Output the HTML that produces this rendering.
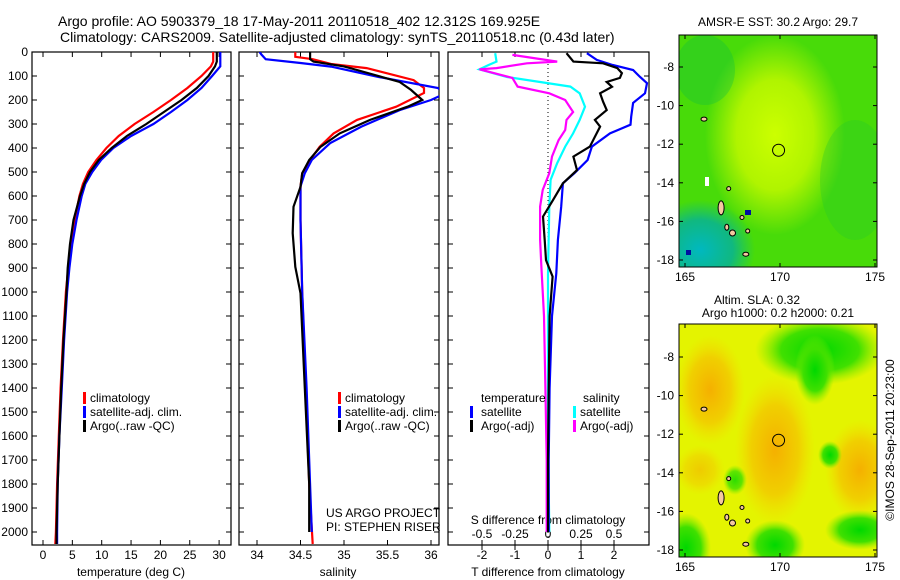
<!DOCTYPE html>
<html><head><meta charset="utf-8"><style>
html,body{margin:0;padding:0;background:#fff;}
svg{display:block;font-family:"Liberation Sans",sans-serif;}
text{fill:#000;font-size:12px;}
</style></head><body>
<svg id="chart" width="900" height="580" viewBox="0 0 900 580" xmlns="http://www.w3.org/2000/svg">
<defs>
<radialGradient id="g1y" cx="0.5" cy="0.5" r="0.5"><stop offset="0" stop-color="#ccff00"/><stop offset="0.55" stop-color="#b0f400"/><stop offset="1" stop-color="#b0f400" stop-opacity="0"/></radialGradient>
<radialGradient id="g1t" cx="0.5" cy="0.5" r="0.5"><stop offset="0" stop-color="#00b8c0"/><stop offset="0.6" stop-color="#10b880"/><stop offset="1" stop-color="#10c070" stop-opacity="0"/></radialGradient>
<radialGradient id="g2o" cx="0.5" cy="0.5" r="0.5"><stop offset="0" stop-color="#f5b000"/><stop offset="0.6" stop-color="#f0d000"/><stop offset="1" stop-color="#f0e000" stop-opacity="0"/></radialGradient>
<radialGradient id="g2g" cx="0.5" cy="0.5" r="0.5"><stop offset="0" stop-color="#00d800"/><stop offset="0.6" stop-color="#40e000"/><stop offset="1" stop-color="#80ec00" stop-opacity="0"/></radialGradient>
<clipPath id="cp1"><rect x="32" y="52" width="199" height="493"/></clipPath>
<clipPath id="cp2"><rect x="239" y="52" width="200" height="493"/></clipPath>
<clipPath id="cp3"><rect x="448" y="52" width="201" height="493"/></clipPath>
<clipPath id="cm1"><rect x="679" y="35" width="198" height="232"/></clipPath>
<clipPath id="cm2"><rect x="679" y="324" width="198" height="233"/></clipPath>
</defs>
<text x="58" y="26" style="font-size:14px">Argo profile: AO 5903379_18 17-May-2011 20110518_402 12.312S 169.925E</text>
<text x="60" y="42" style="font-size:14px">Climatology: CARS2009. Satellite-adjusted climatology: synTS_20110518.nc (0.43d later)</text>

<!-- Map 1 -->
<g clip-path="url(#cm1)">
<rect x="679" y="35" width="198" height="232" fill="#55e000"/>
<rect x="679" y="35" width="198" height="232" fill="#22cc22" opacity="0.25"/>
<ellipse cx="775" cy="135" rx="70" ry="100" fill="url(#g1y)"/>
<ellipse cx="700" cy="250" rx="55" ry="50" fill="url(#g1t)"/>
<ellipse cx="855" cy="180" rx="35" ry="60" fill="#22c830" opacity="0.3"/>
<ellipse cx="705" cy="70" rx="30" ry="35" fill="#10c040" opacity="0.35"/>
<rect x="705" y="177" width="4" height="9" fill="#fff"/>
<rect x="686" y="250" width="5" height="5" fill="#0010a0"/>
<rect x="745" y="210" width="6" height="5" fill="#0010a0"/>
</g>
<rect x="679" y="35" width="198" height="232" fill="none" stroke="#000"/>
<text x="778" y="26" text-anchor="middle">AMSR-E SST: 30.2 Argo: 29.7</text>

<!-- Map 2 -->
<g clip-path="url(#cm2)">
<rect x="679" y="324" width="198" height="233" fill="#e4f400"/>
<ellipse cx="775" cy="450" rx="40" ry="75" fill="url(#g2o)"/>
<ellipse cx="710" cy="390" rx="35" ry="55" fill="url(#g2o)"/>
<ellipse cx="860" cy="470" rx="35" ry="50" fill="url(#g2o)"/>
<ellipse cx="700" cy="470" rx="25" ry="25" fill="url(#g2o)" opacity="0.6"/>
<ellipse cx="820" cy="350" rx="65" ry="35" fill="url(#g2g)"/>
<ellipse cx="815" cy="370" rx="20" ry="35" fill="url(#g2g)"/>
<ellipse cx="830" cy="455" rx="12" ry="14" fill="url(#g2g)"/>
<ellipse cx="686" cy="548" rx="25" ry="35" fill="url(#g2g)"/>
<ellipse cx="775" cy="545" rx="30" ry="25" fill="url(#g2g)"/>
<ellipse cx="860" cy="530" rx="35" ry="20" fill="url(#g2g)"/>
<ellipse cx="735" cy="480" rx="12" ry="15" fill="url(#g2g)" opacity="0.8"/>
</g>
<rect x="679" y="324" width="198" height="233" fill="none" stroke="#000"/>
<text x="757" y="304" text-anchor="middle">Altim. SLA: 0.32</text>
<text x="778" y="317" text-anchor="middle">Argo h1000: 0.2 h2000: 0.21</text>
<text transform="translate(894,440) rotate(-90)" text-anchor="middle">©IMOS 28-Sep-2011 20:23:00</text>

<g id="plots"></g>
</svg>
<script>
// ---------- data ----------
const depthTicks = [0,100,200,300,400,500,600,700,800,900,1000,1100,1200,1300,1400,1500,1600,1700,1800,1900,2000];
const tempTicks = [0,5,10,15,20,25,30];
const salTicks = [34,34.5,35,35.5,36];
const tdiffTicks = [-2,-1,0,1,2];
const sdiffTicks = [-0.5,-0.25,0,0.25,0.5];
const sdiffTickLabels = ["-0.5","-0.25","0","0.25","0.5"];

const tDepth = [0,40,60,100,150,200,250,300,350,400,450,500,550,600,700,800,900,1000,1200,1400,1600,1800,2000,2050];
const tClim = [29.0,29.0,28.6,27.0,24.6,21.8,18.8,15.6,12.9,10.8,9.1,7.7,6.8,6.2,5.4,4.8,4.3,3.9,3.4,3.0,2.7,2.4,2.2,2.1];
const tSat = [30.2,30.2,30.2,28.8,27.0,24.6,21.8,18.8,15.0,12.0,9.9,8.4,7.2,6.6,5.7,5.0,4.5,4.1,3.6,3.2,2.8,2.5,2.4,2.4];
const tArgo = [29.6,29.6,29.3,28.2,26.2,23.6,20.6,17.6,14.3,11.7,9.5,8.0,7.0,6.3,5.2,4.6,4.2,4.0,3.5,3.1,2.8,2.5,2.3,2.3];

const sClimD = [0,20,30,50,67,117,150,171,228,283,339,395,450,505,560,700,1000,1400,1800,2050];
const sClim = [34.44,34.44,34.64,34.85,35.26,35.8,35.92,35.92,35.6,35.15,34.88,34.72,34.61,34.52,34.5,34.5,34.52,34.56,34.6,34.64];
const sSatD = [0,10,30,46,61,104,150,175,200,242,311,380,450,505,560,700,1000,1400,2000];
const sSat = [34.03,34.05,34.1,34.5,34.85,35.4,36.08,36.15,36.0,35.64,35.2,34.84,34.63,34.55,34.5,34.5,34.52,34.57,34.63];
const sArgoD = [0,30,40,60,75,125,158,200,228,283,339,395,450,505,562,645,755,895,1005,1400,1800,2000];
const sArgo = [34.61,34.61,34.65,35.0,35.15,35.64,35.77,35.9,35.73,35.3,34.95,34.73,34.6,34.52,34.5,34.42,34.41,34.44,34.5,34.55,34.6,34.6];

const dTSatD = [5,33,54,75,104,130,172,212,269,303,339,394,450,505,547,644,783,922,1100,1400,1700,2000];
const dTSat = [1.18,1.48,1.96,2.58,2.79,3.0,2.94,2.58,2.52,2.5,1.88,1.33,1.2,0.8,0.45,0.4,0.3,0.25,0.12,0.05,0.02,0.02];
const dTArgoD = [5,40,47,67,88,108,125,145,172,207,242,283,311,353,394,436,492,547,617,686,783,867,936,1100,1400,1700,2000];
const dTArgo = [0.56,0.77,1.67,2.1,2.24,2.18,1.78,1.94,1.58,1.67,1.78,1.42,1.58,1.42,1.27,0.77,0.88,0.45,0.15,-0.15,-0.1,-0.06,0.14,0.05,0.02,0.0,0.0];
const dSSatD = [5,40,54,72,104,125,144,172,228,283,339,394,463,533,644,922,1200,1600,2000];
const dSSat = [-0.40,-0.39,-0.45,-0.52,-0.31,-0.06,0.17,0.24,0.28,0.24,0.19,0.13,0.07,0.02,0.01,0,0,0,0.01];
const dSArgoD = [12,40,47,67,72,108,144,172,200,250,283,325,367,436,505,575,644,783,896,1100,1400,1700,2000];
const dSArgo = [-0.27,0.07,-0.16,-0.39,-0.52,-0.27,-0.23,0.01,0.13,0.19,0.14,0.13,0.08,0.03,0.01,-0.04,-0.06,-0.06,-0.05,-0.03,-0.02,-0.01,-0.01];

const latTicks = [-8,-10,-12,-14,-16,-18];
const lonTicks = [165,170,175];
const floatLon = 169.925, floatLat = -12.312;

// ---------- scales ----------
const NS = "http://www.w3.org/2000/svg";
const root = document.getElementById('plots');
const yD = d => 52 + d * 0.24;
const xT = t => 43 + t * 5.87;
const xS = s => 257 + (s - 34) * 87;
const xTD = v => 548 + v * 33;
const xSD = v => 548 + v * 132;
const mx = lon => 685 + (lon - 165) * 19;
const my1 = lat => 67 + (-8 - lat) * 19.3;
const my2 = lat => 357 + (-8 - lat) * 19.3;

function mk(tag, attrs, parent) {
  const e = document.createElementNS(NS, tag);
  for (const k in attrs) e.setAttribute(k, attrs[k]);
  (parent || root).appendChild(e);
  return e;
}
function txt(x, y, s, anchor, name) {
  const t = mk('text', {x: x, y: y, 'text-anchor': anchor || 'start'});
  t.textContent = s;
  
  
  return t;
}
function line(xs, ds, xf, color, clip, name, dash) {
  let d = '';
  for (let i = 0; i < xs.length; i++) d += (i ? 'L' : 'M') + xf(xs[i]).toFixed(1) + ',' + yD(ds[i]).toFixed(1);
  const p = mk('path', {d: d, fill: 'none', stroke: color, 'stroke-width': 2.2, 'clip-path': 'url(#' + clip + ')'});
  if (dash) p.setAttribute('stroke-dasharray', dash);
  
  
}

// panel frames
const panels = [[32,199,'temperature-panel'],[239,200,'salinity-panel'],[448,201,'difference-panel']];
panels.forEach(p => {
  const r = mk('rect', {x: p[0], y: 52, width: p[1], height: 493, fill: 'none', stroke: '#000', 'stroke-width': 1.2});
  
  
  depthTicks.forEach(d => {
    mk('line', {x1: p[0], x2: p[0] + 5, y1: yD(d), y2: yD(d), stroke: '#000'});
    mk('line', {x1: p[0] + p[1] - 5, x2: p[0] + p[1], y1: yD(d), y2: yD(d), stroke: '#000'});
  });
});
depthTicks.forEach(d => txt(28, yD(d) + 4, String(d), 'end', 'depth-tick-label'));

// temperature axis
tempTicks.forEach(t => {
  mk('line', {x1: xT(t), x2: xT(t), y1: 545, y2: 540, stroke: '#000'});
  mk('line', {x1: xT(t), x2: xT(t), y1: 52, y2: 57, stroke: '#000'});
  txt(xT(t), 559, String(t), 'middle', 'temperature-tick-label');
});
txt(131, 576, 'temperature (deg C)', 'middle', 'temperature-axis-title');
// salinity axis
salTicks.forEach(s => {
  mk('line', {x1: xS(s), x2: xS(s), y1: 545, y2: 540, stroke: '#000'});
  mk('line', {x1: xS(s), x2: xS(s), y1: 52, y2: 57, stroke: '#000'});
  txt(xS(s), 559, String(s), 'middle', 'salinity-tick-label');
});
txt(338, 576, 'salinity', 'middle', 'salinity-axis-title');
// difference axes
tdiffTicks.forEach(v => {
  mk('line', {x1: xTD(v), x2: xTD(v), y1: 545, y2: 550, stroke: '#000'});
  mk('line', {x1: xTD(v), x2: xTD(v), y1: 52, y2: 57, stroke: '#000'});
  txt(xTD(v), 559, String(v), 'middle', 'tdiff-tick-label');
});
sdiffTicks.forEach((v, i) => {
  mk('line', {x1: xSD(v), x2: xSD(v), y1: 545, y2: 540, stroke: '#000'});
  txt(xSD(v), 538, sdiffTickLabels[i], 'middle', 'sdiff-tick-label');
});
txt(548, 524, 'S difference from climatology', 'middle', 'sdiff-axis-title');
txt(548, 576, 'T difference from climatology', 'middle', 'tdiff-axis-title');
const zl = mk('line', {x1: xTD(0), x2: xTD(0), y1: 52, y2: 545, stroke: '#000', 'stroke-dasharray': '1,3'});



// series
line(tClim, tDepth, xT, '#ff0000', 'cp1', 'temp-climatology-line');
line(tSat, tDepth, xT, '#0000ff', 'cp1', 'temp-satellite-line');
line(tArgo, tDepth, xT, '#000000', 'cp1', 'temp-argo-line');
line(sClim, sClimD, xS, '#ff0000', 'cp2', 'sal-climatology-line');
line(sSat, sSatD, xS, '#0000ff', 'cp2', 'sal-satellite-line');
line(sArgo, sArgoD, xS, '#000000', 'cp2', 'sal-argo-line');
line(dSSat, dSSatD, xSD, '#00ffff', 'cp3', 'sdiff-satellite-line');
line(dSArgo, dSArgoD, xSD, '#ff00ff', 'cp3', 'sdiff-argo-line');
line(dTSat, dTSatD, xTD, '#0000ff', 'cp3', 'tdiff-satellite-line');
line(dTArgo, dTArgoD, xTD, '#000000', 'cp3', 'tdiff-argo-line');

// legends
function legItem(x, y, color, label) {
  const r = mk('rect', {x: x, y: y - 10, width: 3, height: 12, fill: color});
  
  
  if (label) txt(x + 7, y, label, 'start', 'legend-entry');
}
[[83, 'temp'], [338, 'sal']].forEach(l => {
  legItem(l[0], 402, '#ff0000', 'climatology');
  legItem(l[0], 416, '#0000ff', 'satellite-adj. clim.');
  legItem(l[0], 430, '#000000', 'Argo(..raw -QC)');
});
txt(481, 402, 'temperature', 'start', 'legend-header-temperature');
txt(583, 402, 'salinity', 'start', 'legend-header-salinity');
legItem(470, 416, '#0000ff', '');
legItem(470, 430, '#000000', '');
txt(481, 416, 'satellite', 'start', 'legend-entry');
txt(481, 430, 'Argo(-adj)', 'start', 'legend-entry');
legItem(573, 416, '#00ffff', 'satellite');
legItem(573, 430, '#ff00ff', 'Argo(-adj)');
txt(326, 517, 'US ARGO PROJECT', 'start', 'project-credit');
txt(326, 531, 'PI: STEPHEN RISER', 'start', 'pi-credit');

// map axes
[[my1, 35, 267, 'sst'], [my2, 324, 557, 'sla']].forEach(m => {
  latTicks.forEach(la => {
    mk('line', {x1: 679, x2: 683, y1: m[0](la), y2: m[0](la), stroke: '#000'});
    mk('line', {x1: 873, x2: 877, y1: m[0](la), y2: m[0](la), stroke: '#000'});
    txt(674, m[0](la) + 4, String(la), 'end', m[3] + '-lat-tick-label');
  });
  lonTicks.forEach(lo => {
    mk('line', {x1: mx(lo), x2: mx(lo), y1: m[1], y2: m[1] + 4, stroke: '#000'});
    mk('line', {x1: mx(lo), x2: mx(lo), y1: m[2] - 4, y2: m[2], stroke: '#000'});
    txt(mx(lo), m[2] + 14, String(lo), 'middle', m[3] + '-lon-tick-label');
  });
  // islands
  const isl = [[166.9,-15.3,3,7],[167.2,-16.3,2,3],[167.5,-16.6,3,3],[168.3,-16.5,2,2],[168.2,-17.7,3,2],[167.3,-14.3,2,2],[168.0,-15.8,2,2],[166.0,-10.7,3,2]];
  isl.forEach(i => {
    const e = mk('ellipse', {cx: mx(i[0]), cy: m[0](i[1]), rx: i[2], ry: i[3], fill: '#f5c8a0', stroke: '#000', 'stroke-width': 1});
    
    
  });
  const c = mk('circle', {cx: mx(floatLon), cy: m[0](floatLat), r: 6, fill: 'none', stroke: '#000'});
  
  
});
</script>
</body></html>
